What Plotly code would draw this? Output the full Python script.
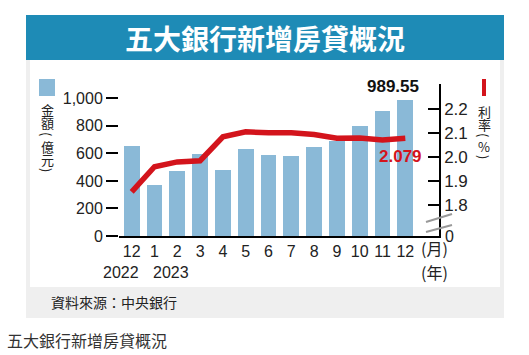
import plotly.graph_objects as go

# ---- data ----
months = ["12", "1", "2", "3", "4", "5", "6", "7", "8", "9", "10", "11", "12"]
years = ["2022", "2023"]
amount = [653, 374, 470, 595, 478, 633, 587, 578, 648, 687, 801, 907, 989.55]
rate = [1.855, 1.96, 1.98, 1.985, 2.085, 2.106, 2.102, 2.102, 2.095, 2.079, 2.08, 2.072, 2.079]
left_ticks = [0, 200, 400, 600, 800, 1000]
right_ticks = [1.8, 1.9, 2.0, 2.1, 2.2]
right_tick_text = ["1.8", "1.9", "2.0", "2.1", "2.2"]

W, H = 529, 355
L, R, T, B = 119, 90, 84, 119
PW, PH = W - L - R, H - T - B

def px(x):
    return (x - L) / PW

def py(y):
    return (H - B - y) / PH

FONT = "Arial, Liberation Sans, Noto Sans CJK TC, sans-serif"
CJK = "Noto Sans CJK TC, sans-serif"
BAR = "#8ab9d7"
RED = "#d3141c"
BLUE = "#1e8bb6"

xs = list(range(len(months)))

fig = go.Figure()
fig.add_trace(go.Bar(x=xs, y=amount, width=0.7, marker=dict(color=BAR, line=dict(width=0)),
                     yaxis="y", hoverinfo="skip"))
fig.add_trace(go.Scatter(x=xs, y=rate, mode="lines", yaxis="y2",
                         line=dict(color=RED, width=5.5), hoverinfo="skip"))

shapes = []
# card
shapes.append(dict(type="rect", xref="paper", yref="paper", x0=px(26), x1=px(504), y0=py(318), y1=py(60),
                   fillcolor="#efefef", line=dict(width=0), layer="below"))
shapes.append(dict(type="rect", xref="paper", yref="paper", x0=px(30), x1=px(500), y0=py(287), y1=py(60),
                   fillcolor="#ffffff", line=dict(width=0), layer="below"))
# title banner
shapes.append(dict(type="rect", xref="paper", yref="paper", x0=px(26), x1=px(504), y0=py(60), y1=py(15),
                   fillcolor=BLUE, line=dict(width=0), layer="below"))
# legend markers
shapes.append(dict(type="rect", xref="paper", yref="paper", x0=px(39), x1=px(55), y0=py(96), y1=py(79),
                   fillcolor=BAR, line=dict(width=0)))
shapes.append(dict(type="rect", xref="paper", yref="paper", x0=px(482), x1=px(486), y0=py(96), y1=py(79),
                   fillcolor=RED, line=dict(width=0)))
# axis break marks
for y0, y1 in [(222, 214), (232, 225)]:
    shapes.append(dict(type="line", xref="paper", yref="paper", x0=px(426), x1=px(452), y0=py(y0), y1=py(y1),
                       line=dict(color="#999999", width=2)))

ann = []
ann.append(dict(text="<b>五大銀行新增房貸概況</b>", x=px(265), y=py(38), xref="paper", yref="paper",
                showarrow=False, xanchor="center", yanchor="middle",
                font=dict(family=CJK, size=28, color="white")))

def vchar(ch, x, y):
    rot = 90 if ch in "()" else 0
    ann.append(dict(text=ch, x=px(x), y=py(y), xref="paper", yref="paper", showarrow=False,
                    xanchor="center", yanchor="middle", textangle=rot, borderpad=0,
                    font=dict(family=CJK, size=13, color="#222")))

# left axis title (vertical)
for ch, yy in [("金", 109), ("額", 122), ("(", 134), ("億", 146), ("元", 159), (")", 170)]:
    vchar(ch, 47, yy)
# right axis title (vertical)
for ch, yy in [("利", 111), ("率", 124), ("(", 135), ("%", 146), (")", 157)]:
    vchar(ch, 484, yy)
# years
ann.append(dict(text=years[0], x=px(121), y=py(272), xref="paper", yref="paper", showarrow=False,
                xanchor="center", yanchor="middle", font=dict(family=FONT, size=16, color="#222")))
ann.append(dict(text=years[1], x=px(171), y=py(272), xref="paper", yref="paper", showarrow=False,
                xanchor="center", yanchor="middle", font=dict(family=FONT, size=16, color="#222")))
ann.append(dict(text="(月)", x=px(434), y=py(248), xref="paper", yref="paper", showarrow=False,
                xanchor="center", yanchor="middle", font=dict(family=CJK, size=16, color="#222")))
ann.append(dict(text="(年)", x=px(434), y=py(272), xref="paper", yref="paper", showarrow=False,
                xanchor="center", yanchor="middle", font=dict(family=CJK, size=16, color="#222")))
ann.append(dict(text="0", x=px(443), y=py(236), xref="paper", yref="paper", showarrow=False,
                xanchor="left", yanchor="middle", font=dict(family=FONT, size=16, color="#222")))
# value labels
ann.append(dict(text="<b>989.55</b>", x=xs[-1], y=amount[-1], xref="x", yref="y", showarrow=False,
                xanchor="center", yanchor="bottom", xshift=-12, yshift=2,
                font=dict(family=FONT, size=17, color="#111")))
ann.append(dict(text="<b>2.079</b>", x=xs[-1], y=rate[-1], xref="x", yref="y2", showarrow=False,
                xanchor="center", yanchor="middle", xshift=-5, yshift=-18,
                font=dict(family=FONT, size=17, color=RED)))
# source & caption
ann.append(dict(text="資料來源：中央銀行", x=px(49), y=py(302), xref="paper", yref="paper", showarrow=False,
                xanchor="left", yanchor="middle", font=dict(family=CJK, size=14, color="#222")))
ann.append(dict(text="五大銀行新增房貸概況", x=px(5), y=py(340), xref="paper", yref="paper", showarrow=False,
                xanchor="left", yanchor="middle", font=dict(family=CJK, size=16, color="#333")))

fig.update_layout(
    width=W, height=H,
    margin=dict(l=L, r=R, t=T, b=B, pad=0),
    paper_bgcolor="white", plot_bgcolor="rgba(0,0,0,0)",
    showlegend=False, bargap=0,
    shapes=shapes, annotations=ann,
    xaxis=dict(range=[-0.557, 13.478], tickvals=xs, ticktext=months, showgrid=False, zeroline=False,
               showline=True, linecolor="black", linewidth=1.5, ticks="",
               tickfont=dict(family=FONT, size=16, color="#222")),
    yaxis=dict(range=[0, 1104], tickvals=left_ticks, tickformat=",", showgrid=False, zeroline=False,
               showline=False, ticks="outside", ticklen=12, tickwidth=1.5, tickcolor="black",
               tickfont=dict(family=FONT, size=16, color="#222")),
    yaxis2=dict(range=[1.670, 2.306], overlaying="y", side="right", tickvals=right_ticks,
                ticktext=right_tick_text, showgrid=False, zeroline=False, showline=True,
                linecolor="black", linewidth=1.5, ticks="inside", ticklen=11, tickwidth=1.5,
                tickcolor="black", tickfont=dict(family=FONT, size=17, color="#222")),
)

fig.write_html("out.html", config={"displayModeBar": False},
               post_script="document.body.style.margin='0';document.body.style.overflow='hidden';")
